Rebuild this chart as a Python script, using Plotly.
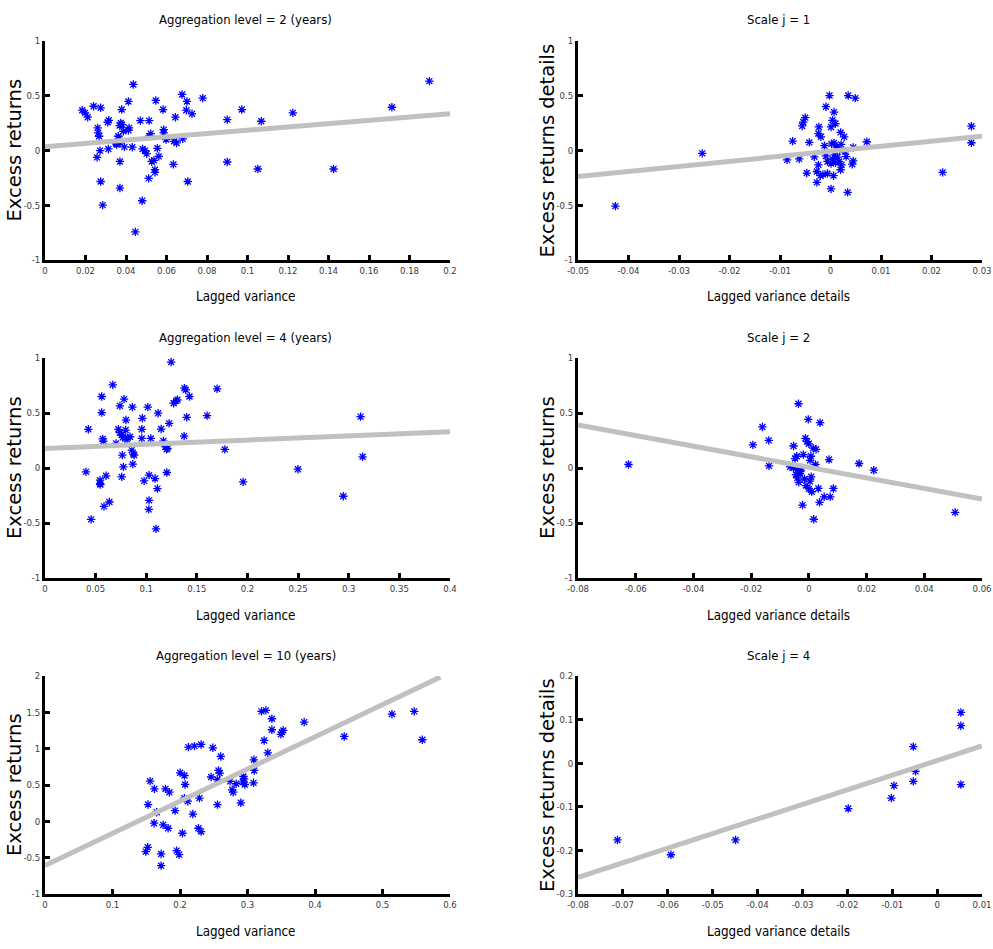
import numpy as np
import plotly.graph_objects as go

# ---------------- data ----------------
# Panel 1: Aggregation level = 2 (years)
p1_x = [0.0184, 0.0198, 0.0211, 0.024, 0.0275, 0.026, 0.0263, 0.0267, 0.0272, 0.0257,
        0.0275, 0.0285, 0.0313, 0.0315, 0.031, 0.0354, 0.0362, 0.0369, 0.0374, 0.038, 0.0379,
        0.037, 0.037, 0.037, 0.0387, 0.0392, 0.0412, 0.0415, 0.0412, 0.0431, 0.0436, 0.0446,
        0.0471, 0.048, 0.0482, 0.0494, 0.0502, 0.0512, 0.0514, 0.0515, 0.0522, 0.0527, 0.0538,
        0.0543, 0.0543, 0.0547, 0.0555, 0.0562, 0.0583, 0.0586, 0.0586, 0.0598, 0.0634, 0.0637,
        0.065, 0.0644, 0.0677, 0.068, 0.0698, 0.0701, 0.0705, 0.0726, 0.0779,
        0.09, 0.09, 0.0972, 0.1051, 0.1068, 0.1224, 0.1425, 0.1713, 0.1898, 0.0351, 0.0365]
p1_y = [0.368, 0.344, 0.304, 0.404, 0.39, 0.207, 0.161, 0.13, -0.001, -0.063,
        -0.283, -0.499, 0.014, 0.276, 0.258, 0.054, 0.13, 0.228, 0.252, 0.237, 0.374,
        0.069, -0.1, -0.343, 0.176, 0.033, 0.448, 0.207, 0.185, 0.03, 0.603, -0.743,
        0.273, -0.459, 0.014, -0.001, -0.029, -0.255, 0.273, 0.13, 0.154, -0.1, -0.09,
        -0.175, -0.2, 0.457, 0.02, -0.054, 0.374, 0.191, 0.161, 0.1, -0.127, 0.084,
        0.069, 0.304, 0.512, 0.106, 0.368, 0.448, -0.283, 0.335, 0.478,
        0.282, -0.105, 0.374, -0.169, 0.267, 0.344, -0.169, 0.395, 0.634, 0.063, 0.11]

# Panel 2: Scale j = 1
p2_x = [-0.0426, -0.0254, 0.0222, 0.0279, 0.0279, 0.0072, -0.0086, -0.0075, -0.0062, -0.0056,
        -0.0054, -0.005, -0.0047, -0.0042, -0.0032, -0.0027, -0.0027, -0.0024, -0.0024, -0.0023,
        -0.0019, -0.002, -0.0015, -0.0012, -0.0009, -0.0009, -0.0006, -0.0006, -0.0002, 0.0001,
        0.0001, 0.0001, 0.0002, 0.0004, 0.0004, 0.0006, 0.0007, 0.0007, 0.0008, 0.001, 0.001,
        0.0012, 0.0014, 0.0017, 0.0018, 0.002, 0.002, 0.0021, 0.0022, 0.0027, 0.0029, 0.0031,
        0.0034, 0.0035, 0.0043, 0.0045, 0.0045, 0.0049]
p2_y = [-0.508, -0.026, -0.2, 0.222, 0.071, 0.08, -0.086, 0.086, -0.077, 0.224,
        0.26, 0.30, -0.206, 0.074, -0.058, -0.192, -0.291, -0.131, 0.155, 0.215,
        0.125, -0.23, -0.22, 0.044, 0.4, -0.05, -0.21, -0.1, 0.502, 0.215,
        -0.351, -0.12, 0.06, 0.276, -0.08, -0.23, 0.351, 0.07, -0.04, 0.246, -0.11,
        0.03, -0.06, -0.1, 0.002, 0.165, -0.176, 0.056, -0.131, 0.125, -0.01, -0.056,
        -0.382, 0.502, -0.125, -0.095, 0.027, 0.478]

# Panel 3: Aggregation level = 4 (years)
p3_x = [0.0405, 0.0428, 0.0455, 0.0544, 0.0544, 0.0547, 0.056, 0.056, 0.057, 0.0577,
        0.0583, 0.0603, 0.0636, 0.0669, 0.0702, 0.0725, 0.074, 0.0758, 0.074, 0.0758,
        0.0764, 0.0774, 0.0781, 0.077, 0.079, 0.0797, 0.08, 0.081, 0.084, 0.0857,
        0.0863, 0.0873, 0.088, 0.0867, 0.0956, 0.0956, 0.0962, 0.0979, 0.1015, 0.1028,
        0.1028, 0.1025, 0.1045, 0.1087, 0.1097, 0.111, 0.1117, 0.1147, 0.117, 0.119,
        0.12, 0.121, 0.1203, 0.1226, 0.1246, 0.127, 0.1295, 0.1308, 0.1374, 0.1377,
        0.139, 0.14, 0.1427, 0.1601, 0.17, 0.1776, 0.1957, 0.2498, 0.2946, 0.3117, 0.3137]
p3_y = [-0.035, 0.352, -0.467, -0.111, -0.142, -0.151, 0.65, 0.504, 0.265, 0.245,
        -0.349, -0.071, -0.309, 0.756, 0.224, 0.352, 0.321, 0.3, 0.565, -0.081,
        0.117, 0.01, 0.626, 0.28, 0.27, 0.345, 0.436, 0.26, 0.284, 0.163,
        0.553, 0.126, 0.117, 0.035, 0.269, 0.352, 0.452, -0.117, 0.553, -0.294,
        -0.065, -0.376, 0.269, -0.096, -0.553, -0.187, 0.498, 0.354, 0.245, 0.193,
        0.169, 0.178, -0.041, 0.406, 0.963, 0.589, 0.61, 0.62, 0.29, 0.726,
        0.711, 0.461, 0.65, 0.476, 0.72, 0.169, -0.126, -0.011, -0.257, 0.467, 0.102]

# Panel 4: Scale j = 2
p4_x = [-0.0625, -0.0194, -0.0161, -0.0139, -0.0138, -0.0053, -0.0048, -0.0042, -0.0036, -0.0065,
        -0.0053, -0.004, -0.003, -0.0045, -0.004, -0.0035, -0.003, -0.0019, -0.0022, -0.0015,
        -0.001, -0.0012, -0.0006, -0.0002, 0.0, 0.0004, 0.0004, 0.0007, 0.0008, 0.001,
        0.0017, 0.0015, 0.0023, 0.0025, 0.0033, 0.0037, 0.0039, 0.0053, 0.007, 0.0074,
        0.0085, 0.0174, 0.0225, 0.0507, 0.0, -0.0025]
p4_y = [0.032, 0.21, 0.373, 0.251, 0.019, 0.2, 0.086, 0.107, 0.584, 0.01,
        0.0, -0.02, -0.03, -0.06, -0.09, -0.13, -0.05, 0.122, -0.337, -0.1,
        -0.16, 0.27, 0.24, 0.442, 0.22, 0.07, -0.12, 0.107, -0.08, -0.216,
        -0.466, 0.18, 0.032, 0.17, -0.186, -0.312, 0.412, -0.262, 0.077, -0.262,
        -0.186, 0.041, -0.02, -0.403, -0.19, 0.0]

# Panel 5: Aggregation level = 10 (years)
p5_x = [0.1493, 0.1522, 0.1527, 0.1557, 0.1621, 0.1616, 0.1656, 0.172, 0.172, 0.175,
        0.1784, 0.1824, 0.1843, 0.1927, 0.1952, 0.1987, 0.2002, 0.2036, 0.2066, 0.2076,
        0.2066, 0.2115, 0.2125, 0.219, 0.2214, 0.2273, 0.2288, 0.2313, 0.2313, 0.2461,
        0.2486, 0.2555, 0.2555, 0.257, 0.2589, 0.2604, 0.2743, 0.2773, 0.2788, 0.2832,
        0.2901, 0.2931, 0.294, 0.295, 0.296, 0.3089, 0.3094, 0.3099, 0.3207, 0.3272,
        0.3247, 0.3301, 0.3361, 0.3361, 0.3494, 0.351, 0.3529, 0.384, 0.4433, 0.514,
        0.547, 0.559]
p5_y = [-0.417, -0.357, 0.231, 0.553, 0.447, -0.026, 0.125, -0.449, -0.61, -0.049,
        0.447, -0.095, 0.401, 0.148, -0.403, -0.458, 0.668, -0.164, 0.631, 0.507,
        0.318, 0.277, 1.021, 0.1, 1.035, -0.095, 0.32, -0.141, 1.058, 0.61,
        1.012, 0.23, 0.576, 0.7, 0.663, 0.893, 0.55, 0.434, 0.401, 0.517,
        0.255, 0.539, 0.617, 0.585, 0.507, 0.53, 0.847, 0.7, 1.513, 1.527,
        1.113, 0.943, 1.412, 1.26, 1.196, 1.228, 1.251, 1.366, 1.168, 1.476,
        1.513, 1.123]

# Panel 6: Scale j = 4
p6_x = [-0.0712, -0.0593, -0.0449, -0.0198, -0.0102, -0.0096, -0.0053, -0.0053, -0.0048,
        0.0053, 0.0053, 0.0053]
p6_y = [-0.176, -0.210, -0.176, -0.104, -0.080, -0.0515, 0.038, -0.0416, -0.0188,
        0.1164, 0.086, -0.049]

# fitted regression lines (intercept, slope, x from, x to)
fit_intercept = [0.035, -0.007, 0.178, 0.006, -0.609, 0.006]
fit_slope = [1.5, 4.6, 0.38, -4.81, 4.43, 3.35]
fit_x_from = [0.0, -0.05, 0.0, -0.08, 0.0, -0.08]
fit_x_to = [0.2, 0.03, 0.4, 0.06, 0.586, 0.01]

titles = ["Aggregation level = 2 (years)", "Scale j = 1",
          "Aggregation level = 4 (years)", "Scale j = 2",
          "Aggregation level = 10 (years)", "Scale j = 4"]
x_titles = ["Lagged variance", "Lagged variance details",
            "Lagged variance", "Lagged variance details",
            "Lagged variance", "Lagged variance details"]
y_titles = ["Excess returns", "Excess returns details",
            "Excess returns", "Excess returns",
            "Excess returns", "Excess returns details"]

x_tickvals = [
    [0, 0.02, 0.04, 0.06, 0.08, 0.1, 0.12, 0.14, 0.16, 0.18, 0.2],
    [-0.05, -0.04, -0.03, -0.02, -0.01, 0, 0.01, 0.02, 0.03],
    [0, 0.05, 0.1, 0.15, 0.2, 0.25, 0.3, 0.35, 0.4],
    [-0.08, -0.06, -0.04, -0.02, 0, 0.02, 0.04, 0.06],
    [0, 0.1, 0.2, 0.3, 0.4, 0.5, 0.6],
    [-0.08, -0.07, -0.06, -0.05, -0.04, -0.03, -0.02, -0.01, 0, 0.01],
]
x_ticktext = [
    ["0", "0.02", "0.04", "0.06", "0.08", "0.1", "0.12", "0.14", "0.16", "0.18", "0.2"],
    ["-0.05", "-0.04", "-0.03", "-0.02", "-0.01", "0", "0.01", "0.02", "0.03"],
    ["0", "0.05", "0.1", "0.15", "0.2", "0.25", "0.3", "0.35", "0.4"],
    ["-0.08", "-0.06", "-0.04", "-0.02", "0", "0.02", "0.04", "0.06"],
    ["0", "0.1", "0.2", "0.3", "0.4", "0.5", "0.6"],
    ["-0.08", "-0.07", "-0.06", "-0.05", "-0.04", "-0.03", "-0.02", "-0.01", "0", "0.01"],
]
y_tickvals = [
    [-1, -0.5, 0, 0.5, 1],
    [-1, -0.5, 0, 0.5, 1],
    [-1, -0.5, 0, 0.5, 1],
    [-1, -0.5, 0, 0.5, 1],
    [-1, -0.5, 0, 0.5, 1, 1.5, 2],
    [-0.3, -0.2, -0.1, 0, 0.1, 0.2],
]
y_ticktext = [
    ["-1", "-0.5", "0", "0.5", "1"],
    ["-1", "-0.5", "0", "0.5", "1"],
    ["-1", "-0.5", "0", "0.5", "1"],
    ["-1", "-0.5", "0", "0.5", "1"],
    ["-1", "-0.5", "0", "0.5", "1", "1.5", "2"],
    ["-0.3", "-0.2", "-0.1", "0", "0.1", "0.2"],
]
x_ranges = [[0, 0.2], [-0.05, 0.03], [0, 0.4], [-0.08, 0.06], [0, 0.6], [-0.08, 0.01]]
y_ranges = [[-1, 1], [-1, 1], [-1, 1], [-1, 1], [-1, 2], [-0.3, 0.2]]

xs = [p1_x, p2_x, p3_x, p4_x, p5_x, p6_x]
ys = [p1_y, p2_y, p3_y, p4_y, p5_y, p6_y]

# ---------------- layout geometry ----------------
W, H = 993, 949
col_px = [(45, 450), (578, 982)]
row_px = [(41, 260), (358, 578), (676, 894)]

NARROW = "DejaVu Sans Condensed, Liberation Sans Narrow, sans-serif"
WIDE = "DejaVu Sans, sans-serif"

fig = go.Figure()
layout = dict(
    width=W, height=H,
    margin=dict(l=0, r=0, t=0, b=0, autoexpand=False),
    paper_bgcolor="white", plot_bgcolor="white",
    showlegend=False,
    annotations=[],
)

for i in range(6):
    r, c = divmod(i, 2)
    n = i + 1
    xa = "x" if n == 1 else f"x{n}"
    ya = "y" if n == 1 else f"y{n}"
    x0p, x1p = col_px[c]
    y0p, y1p = row_px[r]
    xdom = [x0p / W, x1p / W]
    ydom = [1 - y1p / H, 1 - y0p / H]
    axis_common = dict(
        showgrid=False, zeroline=False, showline=True, linecolor="black", linewidth=3,
        ticks="inside", ticklen=5, tickwidth=2.5, tickcolor="black",
        tickfont=dict(family=NARROW, size=9.5, color="#3a3a3a"),
        mirror=False, automargin=False,
    )
    layout["xaxis" if n == 1 else f"xaxis{n}"] = dict(
        axis_common, domain=xdom, range=x_ranges[i], anchor=ya,
        tickmode="array", tickvals=x_tickvals[i], ticktext=x_ticktext[i],
    )
    layout["yaxis" if n == 1 else f"yaxis{n}"] = dict(
        axis_common, domain=ydom, range=y_ranges[i], anchor=xa,
        tickmode="array", tickvals=y_tickvals[i], ticktext=y_ticktext[i],
    )

    fig.add_trace(go.Scatter(
        x=xs[i], y=ys[i], mode="markers", xaxis=xa, yaxis=ya,
        marker=dict(symbol="asterisk-open", size=7, color="#0000ff",
                    line=dict(color="#0000ff", width=1.3)),
        cliponaxis=False,
    ))
    lx = np.array([fit_x_from[i], fit_x_to[i]])
    ly = fit_intercept[i] + fit_slope[i] * lx
    fig.add_trace(go.Scatter(
        x=lx, y=ly, mode="lines", xaxis=xa, yaxis=ya,
        line=dict(color="#c0c0c0", width=5),
    ))

    cx = (x0p + x1p) / 2
    tx = (cx - 2) / W
    # title
    layout["annotations"].append(dict(
        text=titles[i], xref="paper", yref="paper",
        x=tx, y=1 - (y0p - 21) / H,
        xanchor="center", yanchor="middle", showarrow=False,
        font=dict(family=NARROW, size=13, color="black"),
    ))
    # x title
    layout["annotations"].append(dict(
        text=x_titles[i], xref="paper", yref="paper",
        x=tx, y=1 - (y1p + 37) / H,
        xanchor="center", yanchor="middle", showarrow=False,
        font=dict(family=NARROW, size=13.3, color="black"),
    ))
    # y title
    layout["annotations"].append(dict(
        text=y_titles[i], xref="paper", yref="paper",
        x=(x0p - 31) / W, y=1 - ((y0p + y1p) / 2) / H,
        xanchor="center", yanchor="middle", showarrow=False, textangle=-90,
        font=dict(family=WIDE, size=19.5, color="black"),
    ))

fig.update_layout(**layout)
fig.write_html(
    "out.html",
    config={"displayModeBar": False},
    post_script="document.body.style.margin='0';document.body.style.overflow='hidden';",
)
